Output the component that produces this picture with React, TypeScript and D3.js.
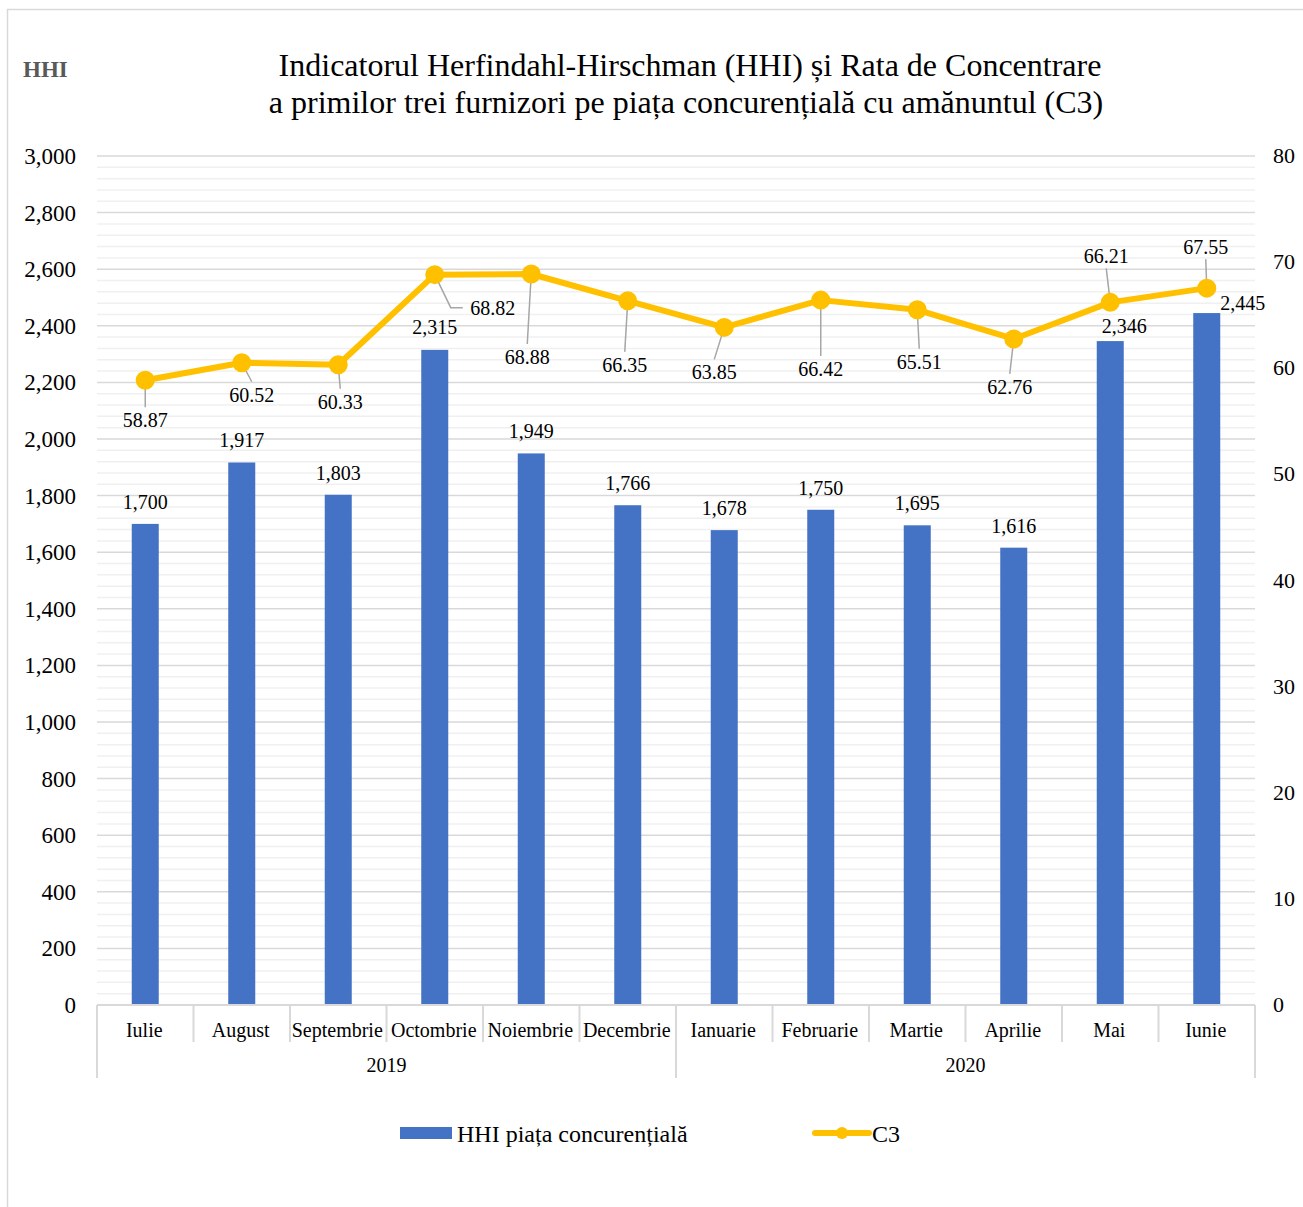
import React from "react";
import * as d3 from "d3";

const months = ["Iulie","August","Septembrie","Octombrie","Noiembrie","Decembrie","Ianuarie","Februarie","Martie","Aprilie","Mai","Iunie"];
const years = [{ label: "2019", from: 0, to: 6 }, { label: "2020", from: 6, to: 12 }];
const hhiValues = [1700,1917,1803,2315,1949,1766,1678,1750,1695,1616,2346,2445];
const c3Values = [58.87,60.52,60.33,68.82,68.88,66.35,63.85,66.42,65.51,62.76,66.21,67.55];
const leftTicks = [0,200,400,600,800,1000,1200,1400,1600,1800,2000,2200,2400,2600,2800,3000];
const rightTicks = [0,10,20,30,40,50,60,70,80];

// label placement offsets (styling, not data)
const c3LabelOffsets: [number, number][] = [[0,40],[10,32],[2,37],[58,33],[-4,83],[-3,64],[-10,45],[0,69],[2,52],[-4,48],[-4,-46],[-1,-41]];
const barLabelOffsets: [number, number][] = [[0,-22],[0,-22],[0,-22],[0,-23],[0,-22],[0,-22],[0,-22],[0,-22],[0,-22],[0,-22],[14,-15],[36,-10]];

const FONT = "'Liberation Serif','Times New Roman',serif";

export default function App() {
  const W = 1303, H = 1207;
  const left = 97, right = 1255, top = 156, bottom = 1005;
  const x = d3.scaleBand<string>().domain(months).range([left, right]).paddingInner(0).paddingOuter(0);
  const yL = d3.scaleLinear().domain([0, 3000]).range([bottom, top]);
  const yR = d3.scaleLinear().domain([0, 80]).range([bottom, top]);
  const barW = 27;
  const cx = (i: number) => (x(months[i]) as number) + x.bandwidth() / 2;
  const minor = d3.range(0, 3001, 40).filter((v) => v % 200 !== 0);
  const line = d3.line<number>().x((_, i) => cx(i)).y((d) => yR(d));
  const fmt = d3.format(",");

  return (
    <svg width={W} height={H} style={{ position: "absolute", left: 0, top: 0, background: "#fff" }} fontFamily={FONT}>
      <rect x={7.5} y={9.5} width={1400} height={1400} fill="#fff" stroke="#d9d9d9" strokeWidth={1.5} />
      <text x={23} y={77} fontSize={23} fontWeight="bold" fill="#595959">HHI</text>
      <text x={690} y={76} fontSize={32} textAnchor="middle" fill="#000">Indicatorul Herfindahl-Hirschman (HHI) și Rata de Concentrare</text>
      <text x={686} y={113} fontSize={32} textAnchor="middle" fill="#000">a primilor trei furnizori pe piața concurențială cu amănuntul (C3)</text>

      {minor.map((v) => (
        <line key={"m" + v} x1={left} x2={right} y1={yL(v)} y2={yL(v)} stroke="#f0f0f0" strokeWidth={1.5} />
      ))}
      {leftTicks.filter((v) => v > 0).map((v) => (
        <line key={"g" + v} x1={left} x2={right} y1={yL(v)} y2={yL(v)} stroke="#d9d9d9" strokeWidth={1.5} />
      ))}
      {leftTicks.map((v) => (
        <text key={"l" + v} x={76} y={yL(v) + 8} fontSize={23} textAnchor="end" fill="#000">{fmt(v)}</text>
      ))}
      {rightTicks.map((v) => (
        <text key={"r" + v} x={1273} y={yR(v) + 7} fontSize={22} textAnchor="start" fill="#000">{v}</text>
      ))}

      {hhiValues.map((v, i) => (
        <rect key={"b" + i} x={cx(i) - barW / 2} y={yL(v)} width={barW} height={bottom - yL(v)} fill="#4472C4" />
      ))}

      <line x1={left} x2={right} y1={bottom} y2={bottom} stroke="#d9d9d9" strokeWidth={2} />
      {d3.range(0, 13).map((i) => {
        const xx = i === 12 ? right : (x(months[i]) as number);
        const isYear = i === 0 || i === 6 || i === 12;
        return <line key={"t" + i} x1={xx} x2={xx} y1={bottom} y2={isYear ? 1078 : 1042} stroke="#d9d9d9" strokeWidth={2} />;
      })}
      {months.map((m, i) => (
        <text key={"c" + i} x={cx(i) - 1} y={1037} fontSize={20} textAnchor="middle" fill="#000">{m}</text>
      ))}
      {years.map((yy) => {
        const x0 = x(months[yy.from]) as number;
        const x1 = yy.to === 12 ? right : (x(months[yy.to]) as number);
        return <text key={yy.label} x={(x0 + x1) / 2} y={1072} fontSize={20} textAnchor="middle" fill="#000">{yy.label}</text>;
      })}

      {hhiValues.map((v, i) => (
        <text key={"bl" + i} x={cx(i) + barLabelOffsets[i][0]} y={yL(v) + barLabelOffsets[i][1] + 7} fontSize={20} textAnchor="middle" fill="#000">{fmt(v)}</text>
      ))}

      {/* leader lines */}
      {c3Values.map((v, i) => {
        const px = cx(i), py = yR(v);
        const [dx, dy] = c3LabelOffsets[i];
        const lx = px + dx, ly = py + dy;
        if (i === 3) {
          return <polyline key={"ll" + i} points={`${px},${py} ${lx - 42},${ly} ${lx - 30},${ly}`} fill="none" stroke="#a6a6a6" strokeWidth={1.5} />;
        }
        const ey = dy > 0 ? ly - 13 : ly + 12;
        return <line key={"ll" + i} x1={px} y1={py} x2={lx} y2={ey} stroke="#a6a6a6" strokeWidth={1.5} />;
      })}

      <path d={line(c3Values) || ""} fill="none" stroke="#FFC000" strokeWidth={6} strokeLinejoin="round" />
      {c3Values.map((v, i) => (
        <circle key={"p" + i} cx={cx(i)} cy={yR(v)} r={9.5} fill="#FFC000" />
      ))}
      {c3Values.map((v, i) => (
        <text key={"cl" + i} x={cx(i) + c3LabelOffsets[i][0]} y={yR(v) + c3LabelOffsets[i][1] + 7} fontSize={20} textAnchor="middle" fill="#000">{v.toFixed(2)}</text>
      ))}

      {/* legend */}
      <rect x={400} y={1127} width={52} height={12} fill="#4472C4" />
      <text x={457} y={1142} fontSize={24} fill="#000">HHI piața concurențială</text>
      <line x1={815} x2={869} y1={1133} y2={1133} stroke="#FFC000" strokeWidth={6} strokeLinecap="round" />
      <circle cx={842} cy={1133} r={6} fill="#FFC000" />
      <text x={872} y={1142} fontSize={24} fill="#000">C3</text>
    </svg>
  );
}
